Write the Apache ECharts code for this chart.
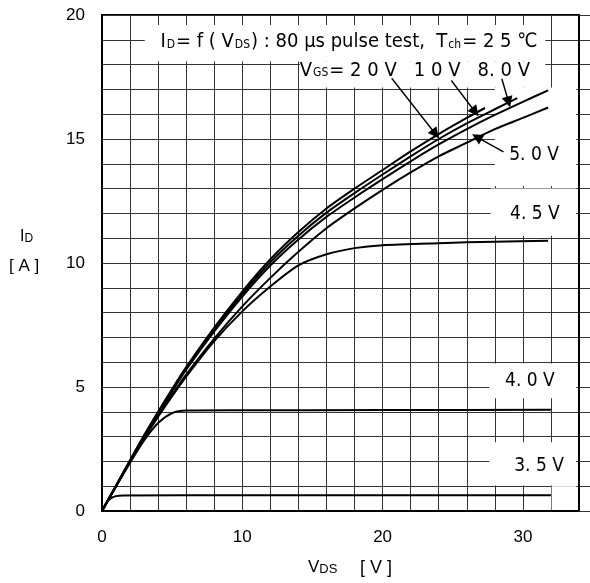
<!DOCTYPE html>
<html>
<head>
<meta charset="utf-8">
<script src="https://cdn.jsdelivr.net/npm/echarts@6/dist/echarts.min.js"></script>
<style>
html, body { margin: 0; padding: 0; background: #fff; }
#chart { width: 590px; height: 583px; }
</style>
</head>
<body>
<div id="chart"></div>
<script>
// Drain current I_D versus drain-source voltage V_DS, one curve per gate voltage.
const vds20 = [0, 1, 2, 3, 4, 5, 6, 8, 10, 12, 14, 16, 18, 20, 22, 24, 26, 27.3];
const id20  = [0, 1.02, 2.05, 3.05, 4.0, 4.92, 5.8, 7.4, 8.85, 10.15, 11.25, 12.2, 13.0, 13.75, 14.5, 15.2, 15.85, 16.25];

const vds10 = [0, 1, 2, 3, 4, 5, 6, 8, 10, 12, 14, 16, 18, 20, 22, 24, 26, 28, 29.6];
const id10  = [0, 1.02, 2.04, 3.03, 3.98, 4.88, 5.75, 7.32, 8.75, 10.03, 11.1, 12.03, 12.82, 13.57, 14.3, 15.0, 15.63, 16.2, 16.65];

const vds8 = [0, 1, 2, 3, 4, 5, 6, 8, 10, 12, 14, 16, 18, 20, 22, 24, 26, 28, 30, 31.8];
const id8  = [0, 1.01, 2.02, 3.0, 3.95, 4.84, 5.7, 7.24, 8.65, 9.9, 10.95, 11.86, 12.64, 13.38, 14.1, 14.78, 15.4, 15.97, 16.5, 16.96];

const vds5 = [0, 1, 2, 3, 4, 5, 6, 8, 10, 12, 14, 16, 18, 20, 22, 24, 26, 28, 30, 31.8];
const id5  = [0, 1.0, 2.0, 2.95, 3.85, 4.7, 5.5, 6.95, 8.25, 9.4, 10.45, 11.4, 12.2, 12.95, 13.65, 14.3, 14.85, 15.4, 15.85, 16.27];

const vds45 = [0, 1, 2, 3, 4, 5, 6, 8, 10, 12, 14, 16, 18, 20, 24, 28, 31.8];
const id45  = [0, 1.0, 1.98, 2.92, 3.8, 4.63, 5.42, 6.85, 8.05, 9.05, 9.9, 10.35, 10.6, 10.72, 10.8, 10.86, 10.9];

const vds40 = [0, 1, 2, 3, 4, 5, 6, 10, 20, 32];
const id40  = [0, 1.0, 1.95, 2.85, 3.55, 3.95, 4.05, 4.06, 4.07, 4.08];

const vds35 = [0, 0.3, 0.6, 1, 1.5, 10, 32];
const id35  = [0, 0.32, 0.5, 0.6, 0.63, 0.64, 0.64];

// Axis ranges and ticks
const xMax = 34, xStep = 2, xLabelEvery = 10;
const yMax = 20, yStep = 1, yLabelEvery = 5;

// Curve annotations: [x, y, text]
const curveLabels = [
  [30.8, 14.35, '5. 0 V'],
  [30.86, 11.98, '4. 5 V'],
  [30.5, 5.25, '4. 0 V'],
  [31.15, 1.82, '3. 5 V']
];
// Arrows from the gate-voltage captions to their curves: [x1, y1, x2, y2]
const arrows = [
  [20.65, 17.45, 23.77, 15.2],
  [24.9, 17.36, 26.6, 16.09],
  [28.5, 17.43, 28.98, 16.49],
  [28.62, 14.48, 26.72, 15.08]
];
// Blank panels behind the captions: [x1, y1, x2, y2]
const panels = [
  [3.05, 18.13, 31.6, 19.6],
  [14.1, 17.08, 31.6, 18.13],
  [28.0, 13.1, 33.8, 17.08],
  [27.7, 11.1, 33.8, 13.0],
  [27.6, 4.55, 33.8, 5.95],
  [27.6, 1.03, 33.8, 2.77],
  [32.05, 0.05, 33.8, 1.0]
];

const pair = (xs, ys) => xs.map((x, i) => [x, ys[i]]);
const narrow = "'Liberation Sans Narrow', 'DejaVu Sans Condensed', 'Liberation Sans', sans-serif";
const plain = "'Liberation Sans', Arial, sans-serif";

function curve(name, xs, ys) {
  return {
    name, type: 'line', data: pair(xs, ys),
    showSymbol: false, smooth: 0.25,
    lineStyle: { color: '#000', width: 2 }, z: 3, silent: true
  };
}

const captionRich = {
  b: { fontFamily: narrow, fontSize: 20, color: '#000', lineHeight: 24, verticalAlign: 'bottom' },
  s: { fontFamily: narrow, fontSize: 12, color: '#000', lineHeight: 24, verticalAlign: 'bottom', padding: [0, 1, 1, 1] }
};

const chart = echarts.init(document.getElementById('chart'), null, { renderer: 'canvas' });

chart.setOption({
  animation: false,
  backgroundColor: '#fff',
  grid: { left: 102, right: 11, top: 15, bottom: 72, show: true, borderColor: '#000', borderWidth: 2, backgroundColor: '#fff' },
  xAxis: {
    type: 'value', min: 0, max: xMax, interval: xStep,
    axisLine: { show: true, lineStyle: { color: '#000', width: 2 } },
    axisTick: { show: false },
    axisLabel: { margin: 18, color: '#000', fontFamily: plain, fontSize: 17,
      formatter: v => (v % xLabelEvery === 0 ? String(v) : '') },
    splitLine: { show: true, lineStyle: { color: '#333', width: 1 } }
  },
  yAxis: [{
    type: 'value', min: 0, max: yMax, interval: yStep,
    axisLine: { show: true, lineStyle: { color: '#000', width: 2 } },
    axisTick: { show: false },
    axisLabel: { margin: 17, color: '#000', fontFamily: plain, fontSize: 17,
      formatter: v => (v % yLabelEvery === 0 ? String(v) : '') },
    splitLine: { show: true, lineStyle: { color: '#333', width: 1 } }
  }, {
    type: 'value', min: 0, max: yMax, interval: yStep, position: 'right',
    axisLine: { show: true, lineStyle: { color: '#000', width: 2 } },
    axisTick: { show: true, inside: false, length: 12, lineStyle: { color: '#333', width: 1 } },
    axisLabel: { show: false },
    splitLine: { show: false }
  }],
  graphic: [
    { type: 'text', left: 20, top: 229, silent: true,
      style: { text: '{a|I}{b|D}', rich: {
        a: { fontFamily: plain, fontSize: 16, color: '#000', verticalAlign: 'bottom', lineHeight: 16 },
        b: { fontFamily: plain, fontSize: 12, color: '#000', verticalAlign: 'bottom', lineHeight: 16 } } } },
    { type: 'text', left: 9, top: 258, silent: true,
      style: { text: '[ A ]', fontFamily: plain, fontSize: 17, fill: '#000' } },
    { type: 'text', left: 308, top: 559, silent: true,
      style: { text: '{a|V}{b|DS}', rich: {
        a: { fontFamily: plain, fontSize: 17, color: '#000', verticalAlign: 'bottom', lineHeight: 18 },
        b: { fontFamily: plain, fontSize: 13, color: '#000', verticalAlign: 'bottom', lineHeight: 18 } } } },
    { type: 'text', left: 360, top: 559, silent: true,
      style: { text: '[ V ]', fontFamily: plain, fontSize: 18, fill: '#000' } }
  ],
  series: [
    {
      type: 'line', data: [], z: 1, silent: true,
      markArea: {
        silent: true,
        itemStyle: { color: '#fff', opacity: 1 },
        data: panels.map(p => [{ coord: [p[0], p[1]] }, { coord: [p[2], p[3]] }])
      }
    },
    curve('20V', vds20, id20),
    curve('10V', vds10, id10),
    curve('8.0V', vds8, id8),
    curve('5.0V', vds5, id5),
    curve('4.5V', vds45, id45),
    curve('4.0V', vds40, id40),
    curve('3.5V', vds35, id35),
    {
      type: 'line', data: [], z: 4, silent: true,
      markLine: {
        silent: true, symbol: ['none', 'triangle'], symbolSize: 11,
        symbolRotate: null,
        lineStyle: { color: '#000', width: 1.4, type: 'solid', opacity: 1 },
        itemStyle: { color: '#000' },
        emphasis: { disabled: true },
        label: { show: false },
        data: arrows.map(a => [{ coord: [a[0], a[1]] }, { coord: [a[2], a[3]] }])
      }
    },
    {
      type: 'line', data: [], z: 5, silent: true,
      markPoint: {
        silent: true, symbol: 'rect', symbolSize: 1,
        itemStyle: { color: 'rgba(0,0,0,0)' },
        label: { show: true, position: 'inside', color: '#000', fontFamily: narrow, fontSize: 19 },
        data: [
          ...curveLabels.map(c => ({ coord: [c[0], c[1]], label: { formatter: c[2] } })),
          { coord: [17.6, 18.98], label: { rich: captionRich,
            formatter: '{b|I}{s|D}{b|= f ( V}{s|DS}{b|) : 80 μs pulse test,  T}{s|ch}{b|= 2 5 ℃}' } },
          { coord: [22.3, 17.85], label: { rich: captionRich,
            formatter: '{b|V}{s|GS}{b|= 2 0 V   1 0 V   8. 0 V}' } }
        ]
      }
    }
  ]
});
</script>
</body>
</html>
